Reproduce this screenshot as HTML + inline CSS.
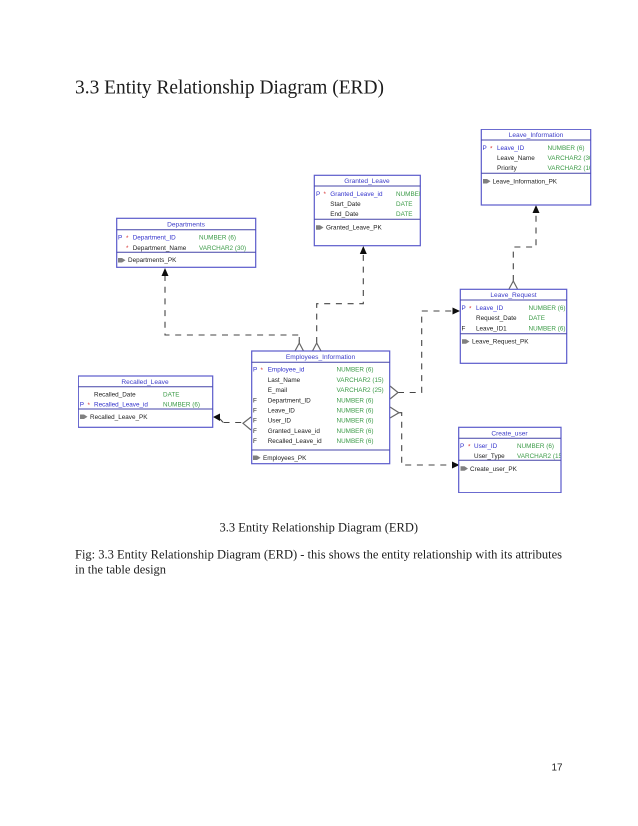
<!DOCTYPE html>
<html>
<head>
<meta charset="utf-8">
<style>
html,body{margin:0;padding:0;background:#fff;width:638px;height:826px;overflow:hidden}
svg{display:block}
.s{font-family:"Liberation Sans",sans-serif;font-size:6.35px;fill:#222}
.t{fill:#3c3cc8;text-anchor:middle;font-size:6.6px}
.b{fill:#3232cc}
.g{fill:#3a9a46}
.r{fill:#d83030}
.box{fill:#fff;stroke:#5a5acb;stroke-width:1.2}
.ln{stroke:#4444a8;stroke-width:1}
.d{fill:none;stroke:#444;stroke-width:1.1;stroke-dasharray:6 5.7}
.c{fill:none;stroke:#666;stroke-width:1.2}
.k{fill:#808080}
</style>
</head>
<body>
<svg width="638" height="826" viewBox="0 0 638 826" xmlns="http://www.w3.org/2000/svg">
<defs>
<filter id="bl" x="0" y="0" width="100%" height="100%"><feGaussianBlur stdDeviation="0.32"/></filter>
<clipPath id="c1"><rect x="390" y="170" width="30" height="60"/></clipPath>
<clipPath id="c2"><rect x="540" y="130" width="50.2" height="60"/></clipPath>
<clipPath id="c3"><rect x="510" y="430" width="50.5" height="40"/></clipPath>
</defs>
<rect width="638" height="826" fill="#fff"/>
<text x="75" y="93.5" font-family="'Liberation Serif',serif" font-size="20" fill="#1c1c1c" textLength="309" lengthAdjust="spacingAndGlyphs">3.3 Entity Relationship Diagram (ERD)</text>

<g filter="url(#bl)">
<!-- connectors -->
<path class="d" d="M165 275V335H299.3V343"/>
<path class="d" d="M316.7 343V303.7H363.3V253"/>
<path class="d" d="M513.3 281V247H536V213"/>
<path class="d" d="M398 392.5H421.7V311H453"/>
<path class="d" d="M399 412.7H401.7V465H452"/>
<path d="M220 419L223 422.3" fill="none" stroke="#444" stroke-width="1.1"/>
<path class="d" d="M223.5 422.5H243"/>
<path d="M165 268L161.5 276H168.5Z M363.3 246L359.8 254H366.8Z M536 205L532.5 213H539.5Z M460 311L452.5 307.5V314.5Z M459.5 465L452 461.5V468.5Z M213 417L220 413.5V421Z" fill="#111"/>
<path class="c" d="M295 351L299.3 343L303.5 351M299.3 343V337"/>
<path class="c" d="M312.5 351L316.7 343L321 351"/>
<path class="c" d="M509 289L513.3 281L517.5 289"/>
<path class="c" d="M390 386L398 392.5L390 399"/>
<path class="c" d="M390 407L399 412.7L390 418"/>
<path class="c" d="M251 417L243 423.3L251 430"/>

<!-- Departments -->
<rect class="box" x="116.7" y="218.3" width="139" height="49"/>
<path class="ln" d="M116.7 229.7H255.7M116.7 252.3H255.7"/>
<text class="s t" x="186" y="226.5">Departments</text>
<text class="s b" x="118" y="239.6">P</text><text class="s r" x="126" y="240">*</text><text class="s b" x="132.7" y="239.6">Department_ID</text><text class="s g" x="199" y="239.6">NUMBER (6)</text>
<text class="s r" x="126" y="250">*</text><text class="s" x="132.7" y="249.8">Department_Name</text><text class="s g" x="199" y="249.8">VARCHAR2 (30)</text>
<path class="k" d="M118 258H122L125.5 260.3L122 262.5H118Z"/>
<text class="s" x="128" y="262">Departments_PK</text>

<!-- Granted_Leave -->
<rect class="box" x="314.3" y="175.3" width="106" height="70.4"/>
<path class="ln" d="M314.3 186H420.3M314.3 219.3H420.3"/>
<text class="s t" x="367" y="183.2">Granted_Leave</text>
<text class="s b" x="316" y="195.8">P</text><text class="s r" x="323.5" y="196.2">*</text><text class="s b" x="330.3" y="195.8">Granted_Leave_id</text><text class="s g" x="396" y="195.8" clip-path="url(#c1)">NUMBER (6)</text>
<text class="s" x="330.3" y="205.9">Start_Date</text><text class="s g" x="396" y="205.9">DATE</text>
<text class="s" x="330.3" y="216">End_Date</text><text class="s g" x="396" y="216">DATE</text>
<path class="k" d="M316 225.2H320L323.5 227.5L320 229.7H316Z"/>
<text class="s" x="326" y="229.3">Granted_Leave_PK</text>

<!-- Leave_Information -->
<rect class="box" x="481.3" y="129.3" width="109.4" height="75.7"/>
<path class="ln" d="M481.3 140H590.7M481.3 173.3H590.7"/>
<text class="s t" x="536" y="137.2">Leave_Information</text>
<text class="s b" x="482.5" y="150">P</text><text class="s r" x="490" y="150.4">*</text><text class="s b" x="497" y="150">Leave_ID</text><text class="s g" x="547.5" y="150">NUMBER (6)</text>
<text class="s" x="497" y="160">Leave_Name</text><text class="s g" x="547.5" y="160" clip-path="url(#c2)">VARCHAR2 (30)</text>
<text class="s" x="497" y="170">Priority</text><text class="s g" x="547.5" y="170" clip-path="url(#c2)">VARCHAR2 (10)</text>
<path class="k" d="M483 179H487L490.5 181.3L487 183.5H483Z"/>
<text class="s" x="492.5" y="183.5">Leave_Information_PK</text>

<!-- Leave_Request -->
<rect class="box" x="460.3" y="289.3" width="106.4" height="74"/>
<path class="ln" d="M460.3 300H566.7M460.3 333.7H566.7"/>
<text class="s t" x="513.5" y="297.2">Leave_Request</text>
<text class="s b" x="461.5" y="310">P</text><text class="s r" x="469" y="310.4">*</text><text class="s b" x="476" y="310">Leave_ID</text><text class="s g" x="528.5" y="310">NUMBER (6)</text>
<text class="s" x="476" y="320.2">Request_Date</text><text class="s g" x="528.5" y="320.2">DATE</text>
<text class="s" x="461.5" y="330.4">F</text><text class="s" x="476" y="330.4">Leave_ID1</text><text class="s g" x="528.5" y="330.4">NUMBER (6)</text>
<path class="k" d="M462 339.2H466L469.5 341.5L466 343.7H462Z"/>
<text class="s" x="472" y="343.5">Leave_Request_PK</text>

<!-- Employees_Information -->
<rect class="box" x="251.7" y="351" width="138" height="112.7"/>
<path class="ln" d="M251.7 362.3H389.7M251.7 450H389.7"/>
<text class="s t" x="320.5" y="358.8">Employees_Information</text>
<text class="s b" x="253" y="371.7">P</text><text class="s r" x="260.5" y="372.1">*</text><text class="s b" x="267.7" y="371.7">Employee_id</text><text class="s g" x="336.5" y="371.7">NUMBER (6)</text>
<text class="s" x="267.7" y="381.9">Last_Name</text><text class="s g" x="336.5" y="381.9">VARCHAR2 (15)</text>
<text class="s" x="267.7" y="392.1">E_mail</text><text class="s g" x="336.5" y="392.1">VARCHAR2 (25)</text>
<text class="s" x="253" y="402.3">F</text><text class="s" x="267.7" y="402.3">Department_ID</text><text class="s g" x="336.5" y="402.3">NUMBER (6)</text>
<text class="s" x="253" y="412.5">F</text><text class="s" x="267.7" y="412.5">Leave_ID</text><text class="s g" x="336.5" y="412.5">NUMBER (6)</text>
<text class="s" x="253" y="422.7">F</text><text class="s" x="267.7" y="422.7">User_ID</text><text class="s g" x="336.5" y="422.7">NUMBER (6)</text>
<text class="s" x="253" y="432.9">F</text><text class="s" x="267.7" y="432.9">Granted_Leave_id</text><text class="s g" x="336.5" y="432.9">NUMBER (6)</text>
<text class="s" x="253" y="443.1">F</text><text class="s" x="267.7" y="443.1">Recalled_Leave_id</text><text class="s g" x="336.5" y="443.1">NUMBER (6)</text>
<path class="k" d="M253 455.5H257L260.5 457.8L257 460H253Z"/>
<text class="s" x="263" y="460">Employees_PK</text>

<!-- Recalled_Leave -->
<rect class="box" x="78.3" y="376" width="134.4" height="51.3"/>
<path class="ln" d="M78.3 386.7H212.7M78.3 409H212.7"/>
<text class="s t" x="145" y="383.8">Recalled_Leave</text>
<text class="s" x="94" y="396.5">Recalled_Date</text><text class="s g" x="163" y="396.5">DATE</text>
<text class="s b" x="79.7" y="406.7">P</text><text class="s r" x="87.5" y="407.1">*</text><text class="s b" x="94" y="406.7">Recalled_Leave_id</text><text class="s g" x="163" y="406.7">NUMBER (6)</text>
<path class="k" d="M80 414.5H84L87.5 416.8L84 419H80Z"/>
<text class="s" x="90" y="419">Recalled_Leave_PK</text>

<!-- Create_user -->
<rect class="box" x="458.7" y="427.3" width="102.3" height="65.4"/>
<path class="ln" d="M458.7 438.3H561M458.7 460.3H561"/>
<text class="s t" x="509.5" y="435.3">Create_user</text>
<text class="s b" x="460" y="448">P</text><text class="s r" x="468" y="448.4">*</text><text class="s b" x="474" y="448">User_ID</text><text class="s g" x="517" y="448">NUMBER (6)</text>
<text class="s" x="474" y="458.2">User_Type</text><text class="s g" x="517" y="458.2" clip-path="url(#c3)">VARCHAR2 (15)</text>
<path class="k" d="M460.5 466.3H464.5L468 468.6L464.5 470.8H460.5Z"/>
<text class="s" x="470" y="470.8">Create_user_PK</text>
</g>

<g font-family="'Liberation Serif',serif" fill="#1c1c1c" font-size="12.5">
<text x="219.5" y="531.5" textLength="198.5" lengthAdjust="spacingAndGlyphs">3.3 Entity Relationship Diagram (ERD)</text>
<text x="75" y="558.3" textLength="487" lengthAdjust="spacingAndGlyphs">Fig: 3.3 Entity Relationship Diagram (ERD) - this shows the entity relationship with its attributes</text>
<text x="75" y="573.3" textLength="91" lengthAdjust="spacingAndGlyphs">in the table design</text>
</g>
<text x="551.5" y="770.7" font-family="'Liberation Sans',sans-serif" font-size="10.5" fill="#222" textLength="11" lengthAdjust="spacingAndGlyphs">17</text>
</svg>
</body>
</html>
